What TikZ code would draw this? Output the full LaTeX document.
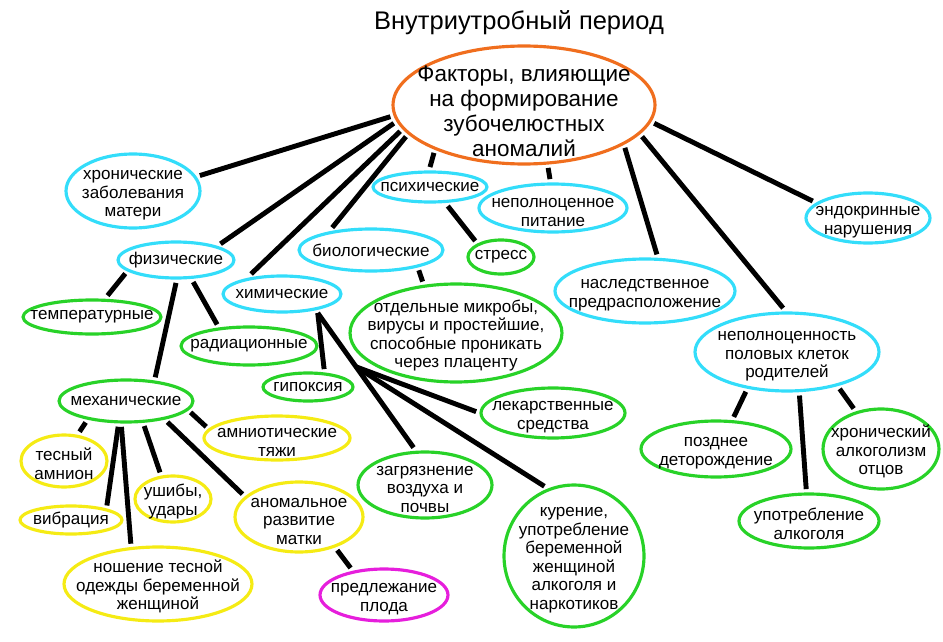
\documentclass[tikz,border=0pt]{standalone}
\usepackage{fontspec}
\setmainfont{Liberation Sans}
\usetikzlibrary{shapes.geometric,calc}
\definecolor{bubCyan}{RGB}{51,221,250}
\definecolor{bubGreen}{RGB}{40,210,40}
\definecolor{bubYellow}{RGB}{245,235,20}
\definecolor{bubOrange}{RGB}{240,110,30}
\definecolor{bubPink}{RGB}{230,30,220}
\newcommand{\st}{\rule{0pt}{10pt}}
\tikzset{bub/.style={ellipse,draw=#1,line width=1.8pt,inner sep=-40pt,outer sep=2.8pt,align=center,font=\fontsize{9.7}{10.6}\selectfont},
 link/.style={draw=black,line width=2.8pt},
 sz/.style 2 args={minimum width=#1cm,minimum height=#2cm}}

\begin{document}
\begin{tikzpicture}[x=0.02cm,y=-0.02cm]
\useasboundingbox (0,0) rectangle (943,642);
\node[font=\fontsize{14.5}{16}\selectfont] (title) at (519,23) {Внутриутробный период};
\node[bub=bubOrange,sz={5.24}{2.36},font=\fontsize{12.8}{14.2}\selectfont] (main) at (524,105) {\rule{0pt}{16pt}Факторы, влияющие\\на формирование\\зубочелюстных\\аномалий};
\node[bub=bubCyan,sz={2.68}{1.48}] (chron) at (133,191) {\st хронические\\заболевания\\матери};
\node[bub=bubCyan,sz={2.32}{0.72}] (fiz) at (176,260) {физические};
\node[bub=bubGreen,sz={2.76}{0.68}] (temp) at (92,317) {температурные};
\node[bub=bubGreen,sz={2.72}{0.76}] (rad) at (249,346) {радиационные};
\node[bub=bubCyan,sz={2.36}{0.72}] (chem) at (282,294) {химические};
\node[bub=bubCyan,sz={2.88}{0.84}] (bio) at (371,250) {биологические};
\node[bub=bubGreen,sz={1.8}{0.56}] (hypox) at (308,387) {гипоксия};
\node[bub=bubGreen,sz={2.68}{0.84}] (mech) at (126,401) {механические};
\node[bub=bubYellow,sz={2.92}{0.88}] (amnio) at (277,438) {\st амниотические\\тяжи};
\node[bub=bubYellow,sz={1.72}{1.04}] (tesny) at (64,461) {\st тесный\\амнион};
\node[bub=bubYellow,sz={2.04}{0.56}] (vibr) at (71,520) {вибрация};
\node[bub=bubYellow,sz={1.52}{0.92}] (ushib) at (173,499) {\st ушибы,\\удары};
\node[bub=bubYellow,sz={2.56}{1.4}] (anom) at (299,517) {\st аномальное\\развитие\\матки};
\node[bub=bubYellow,sz={3.76}{1.48}] (nosh) at (158,584) {\st ношение тесной\\одежды беременной\\женщиной};
\node[bub=bubPink,sz={2.56}{1.04}] (pred) at (384,595) {\st предлежание\\плода};
\node[bub=bubGreen,sz={4.24}{1.96}] (microb) at (456,333) {\st отдельные микробы,\\вирусы и простейшие,\\способные проникать\\через плаценту};
\node[bub=bubGreen,sz={2.88}{1.0}] (lek) at (553,413) {\st лекарственные\\средства};
\node[bub=bubGreen,sz={2.68}{1.32}] (zagr) at (425,485) {\st загрязнение\\воздуха и\\почвы};
\node[bub=bubGreen,sz={2.8}{2.84}] (kur) at (574,556) {\st курение,\\употребление\\беременной\\женщиной\\алкоголя и\\наркотиков};
\node[bub=bubCyan,sz={2.28}{0.6}] (psych) at (430,187) {психические};
\node[bub=bubGreen,sz={1.32}{0.68}] (stress) at (501,257) {стресс};
\node[bub=bubCyan,sz={2.96}{0.96}] (nutr) at (553,208) {\st неполноценное\\питание};
\node[bub=bubCyan,sz={3.6}{1.28}] (nasl) at (645,291) {\st наследственное\\предрасположение};
\node[bub=bubCyan,sz={2.48}{1.0}] (endo) at (868,218) {\st эндокринные\\нарушения};
\node[bub=bubCyan,sz={3.68}{1.56}] (nepoln) at (787,352) {\st неполноценность\\половых клеток\\родителей};
\node[bub=bubGreen,sz={3.0}{1.12}] (pozd) at (716,449) {\st позднее\\деторождение};
\node[bub=bubGreen,sz={2.32}{1.6}] (chralc) at (881,449) {\st хронический\\алкоголизм\\отцов};
\node[bub=bubGreen,sz={2.8}{1.08}] (upot) at (809,521) {\st употребление\\алкоголя};
\coordinate (hub) at ($(chem.-28)!0.4!(zagr.107)$);
\draw[link] (main.185) -- (chron.13);
\draw[link] (main.188) -- (fiz.20);
\draw[link] (main.192) -- (chem.147);
\draw[link] (main.195) -- (bio.150);
\draw[link] (main.208) -- (psych.90);
\draw[link] (main.-69) -- (nutr.96);
\draw[link] (main.-23) -- (nasl.72);
\draw[link] (main.-15) -- (nepoln.95);
\draw[link] (main.-8) -- (endo.163);
\draw[link] (psych.-47) -- (stress.148);
\draw[link] (bio.-23) -- (microb.123);
\draw[link] (fiz.195) -- (temp.54);
\draw[link] (fiz.-52) -- (rad.146);
\draw[link] (fiz.-90) -- (mech.39);
\draw[link] (chem.-28) -- (hypox.48);
\draw[link] (chem.-28) -- (zagr.107);
\draw[link] (hub) -- (lek.179);
\draw[link] (hub) -- (kur.113);
\draw[link] (mech.208) -- (tesny.62);
\draw[link] (mech.-107) -- (vibr.22);
\draw[link] (mech.-100) -- (nosh.124);
\draw[link] (mech.-54) -- (ushib.116);
\draw[link] (mech.-27) -- (anom.158);
\draw[link] (mech.-10) -- (amnio.171);
\draw[link] (anom.-41) -- (pred.141);
\draw[link] (nepoln.224) -- (pozd.61);
\draw[link] (nepoln.-74) -- (upot.95);
\draw[link] (nepoln.-35) -- (chralc.124);
\end{tikzpicture}
\end{document}
